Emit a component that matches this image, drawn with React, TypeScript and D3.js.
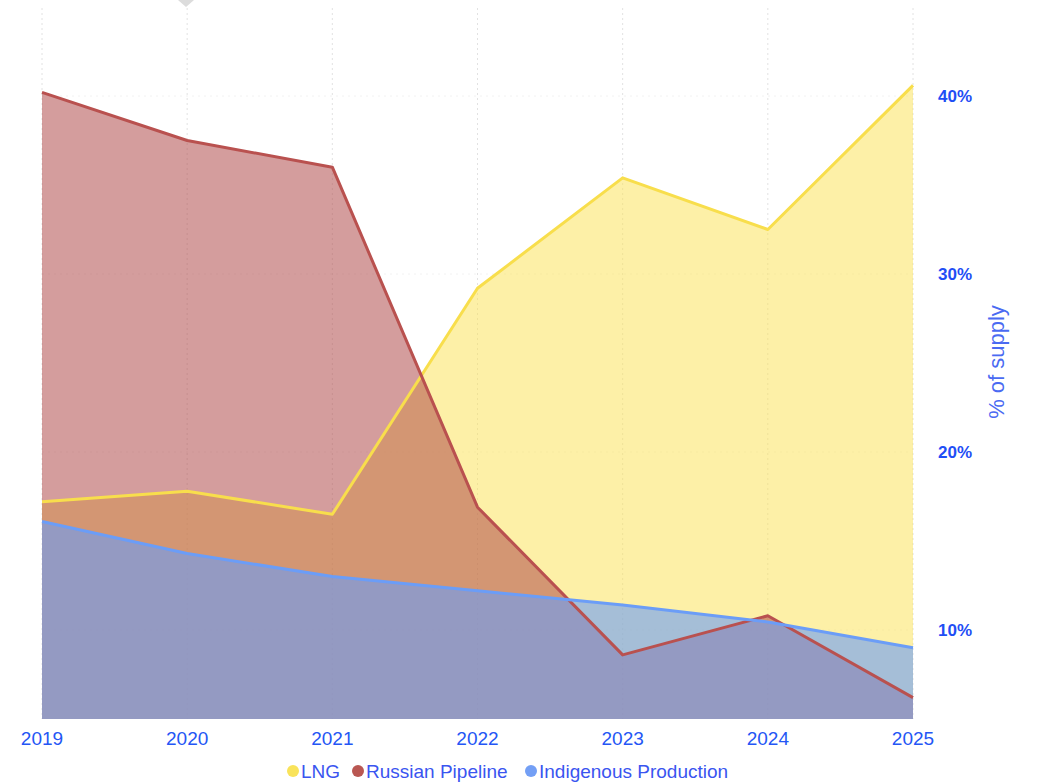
import * as d3 from 'd3';

const years = [2019, 2020, 2021, 2022, 2023, 2024, 2025];
const lng = [17.2, 17.8, 16.5, 29.2, 35.4, 32.5, 40.6];
const russianPipeline = [40.2, 37.5, 36.0, 16.9, 8.6, 10.8, 6.2];
const indigenous = [16.1, 14.3, 13.0, 12.2, 11.4, 10.45, 9.0];
const yTicks = [10, 20, 30, 40];

const series = [
  { name: 'LNG', values: lng, line: '#f8de4c', fill: '#fbe14f', opacity: 0.5, legend: '#f9e35a' },
  { name: 'Russian Pipeline', values: russianPipeline, line: '#b9514f', fill: '#ae4646', opacity: 0.53, legend: '#b95752' },
  { name: 'Indigenous Production', values: indigenous, line: '#6b9df7', fill: '#6a9df7', opacity: 0.6, legend: '#739ff5' },
];

// legend marker x positions
const legendX = [293, 358, 531];

export default function App() {
  const width = 1043;
  const height = 782;

  const x = d3.scalePoint<number>().domain(years).range([42, 913]);
  const y = d3.scaleLinear().domain([5, 45]).range([719, 7]);

  const area = d3.area<number>()
    .x((_, i) => x(years[i])!)
    .y0(y(5))
    .y1(d => y(d));

  const line = d3.line<number>()
    .x((_, i) => x(years[i])!)
    .y(d => y(d));

  return (
    <svg width={width} height={height} style={{ position: 'absolute', left: 0, top: 0, fontFamily: 'Arial, "Liberation Sans", sans-serif' }}>
      <rect width={width} height={height} fill="#ffffff" />
      <polygon points="178,0 194,0 186,7" fill="#dcdcdc" />

      {years.map(yr => (
        <line key={yr} x1={x(yr)} x2={x(yr)} y1={8} y2={719}
          stroke="#e2e2e2" strokeWidth={1} strokeDasharray="2,3" />
      ))}
      {yTicks.map(t => (
        <line key={t} x1={42} x2={913} y1={y(t)} y2={y(t)}
          stroke="#f2f2f2" strokeWidth={1} strokeDasharray="2,4" />
      ))}

      {series.map(s => (
        <path key={s.name + '-area'} d={area(s.values)!} fill={s.fill} fillOpacity={s.opacity} />
      ))}
      {series.map(s => (
        <path key={s.name + '-line'} d={line(s.values)!} fill="none" stroke={s.line} strokeWidth={3} strokeLinejoin="round" />
      ))}

      {years.map(yr => (
        <text key={yr} x={x(yr)} y={745} textAnchor="middle" fontSize={19} fill="#2456f5">{yr}</text>
      ))}

      {yTicks.map(t => (
        <text key={t} x={938} y={y(t) + 6} fontSize={17} fontWeight="bold" fill="#1f4ef5">{t}%</text>
      ))}

      <text transform="translate(1004,362) rotate(-90)" textAnchor="middle" fontSize={22} fill="#4a6af2">% of supply</text>

      {series.map((s, i) => (
        <g key={s.name} transform={`translate(${legendX[i]},771)`}>
          <circle cx={0} cy={0} r={6} fill={s.legend} />
          <text x={8} y={6.5} fontSize={19} fill="#3a55f0">{s.name}</text>
        </g>
      ))}
    </svg>
  );
}
